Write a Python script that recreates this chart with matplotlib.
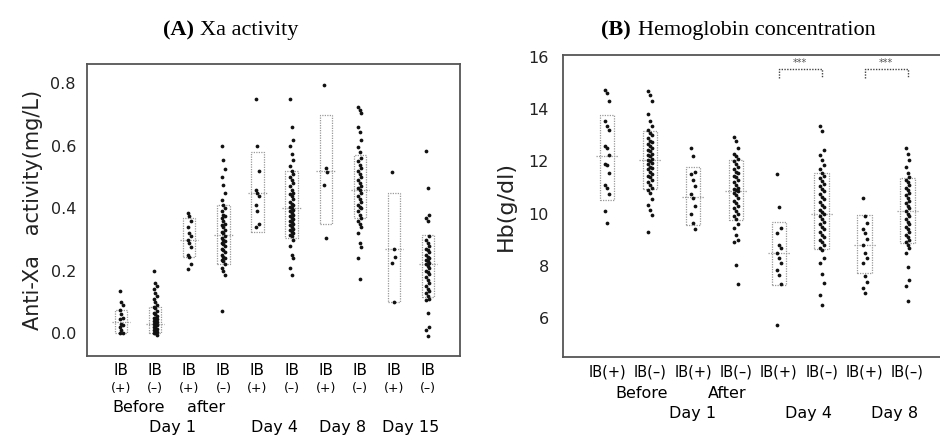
import numpy as np
import matplotlib
matplotlib.use("Agg")
import matplotlib.pyplot as plt
from matplotlib.patches import Rectangle
from matplotlib.transforms import blended_transform_factory

# ---- (A) Xa activity, mg/L ----
xa_groups = [
    [0.135, 0.10, 0.09, 0.075, 0.06, 0.05, 0.045, 0.03, 0.025, 0.02, 0.01, 0.0, 0.0],
    [0.2, 0.16, 0.15, 0.14, 0.13, 0.12, 0.11, 0.1, 0.09, 0.085, 0.08, 0.07, 0.065, 0.06,
     0.055, 0.05, 0.05, 0.045, 0.04, 0.04, 0.035, 0.03, 0.03, 0.025, 0.02, 0.02, 0.015,
     0.01, 0.01, 0.005, 0.0, 0.0, -0.005],
    [0.385, 0.375, 0.36, 0.34, 0.32, 0.31, 0.30, 0.29, 0.275, 0.25, 0.245, 0.22, 0.205],
    [0.6, 0.555, 0.525, 0.5, 0.475, 0.45, 0.425, 0.41, 0.4, 0.39, 0.38, 0.375, 0.37, 0.36,
     0.35, 0.345, 0.34, 0.33, 0.325, 0.32, 0.31, 0.305, 0.3, 0.295, 0.29, 0.285, 0.28,
     0.27, 0.265, 0.26, 0.25, 0.245, 0.24, 0.235, 0.23, 0.22, 0.21, 0.2, 0.185, 0.07],
    [0.75, 0.6, 0.52, 0.46, 0.45, 0.44, 0.41, 0.39, 0.35, 0.34],
    [0.75, 0.66, 0.62, 0.6, 0.575, 0.555, 0.535, 0.52, 0.51, 0.5, 0.49, 0.48, 0.47, 0.46,
     0.45, 0.445, 0.44, 0.43, 0.42, 0.415, 0.41, 0.405, 0.4, 0.395, 0.39, 0.385, 0.38,
     0.375, 0.37, 0.365, 0.36, 0.355, 0.35, 0.345, 0.34, 0.335, 0.33, 0.325, 0.32, 0.315,
     0.31, 0.3, 0.28, 0.25, 0.24, 0.21, 0.185],
    [0.795, 0.53, 0.515, 0.475, 0.305],
    [0.725, 0.715, 0.705, 0.66, 0.645, 0.62, 0.595, 0.58, 0.56, 0.55, 0.54, 0.53, 0.52,
     0.51, 0.5, 0.49, 0.48, 0.47, 0.465, 0.46, 0.45, 0.44, 0.43, 0.42, 0.41, 0.405, 0.4,
     0.39, 0.38, 0.37, 0.36, 0.35, 0.34, 0.32, 0.29, 0.275, 0.24, 0.175],
    [0.515, 0.27, 0.245, 0.225, 0.1],
    [0.585, 0.465, 0.38, 0.37, 0.36, 0.31, 0.3, 0.29, 0.28, 0.27, 0.265, 0.26, 0.25, 0.245,
     0.24, 0.235, 0.23, 0.225, 0.22, 0.215, 0.21, 0.2, 0.195, 0.19, 0.18, 0.17, 0.16,
     0.15, 0.14, 0.135, 0.13, 0.12, 0.11, 0.105, 0.065, 0.02, 0.01, -0.01],
]
xa_box_lo = [0.0, 0.0, 0.245, 0.22, 0.325, 0.305, 0.35, 0.37, 0.1, 0.115]
xa_box_hi = [0.075, 0.085, 0.37, 0.41, 0.58, 0.52, 0.70, 0.57, 0.45, 0.315]
xa_box_med = [0.035, 0.03, 0.3, 0.315, 0.45, 0.4, 0.52, 0.46, 0.27, 0.22]
xa_ib = ["(+)", "(–)"] * 5
xa_phase = ["Before", "after"]
xa_days = ["Day 1", "Day 4", "Day 8", "Day 15"]
xa_yticks = [0.0, 0.2, 0.4, 0.6, 0.8]

# ---- (B) Hemoglobin, g/dl ----
hb_groups = [
    [14.75, 14.6, 14.3, 13.55, 13.35, 13.2, 12.6, 12.5, 12.25, 11.9, 11.85, 11.55, 11.1,
     11.0, 10.75, 10.1, 9.65],
    [14.7, 14.55, 14.3, 13.8, 13.55, 13.35, 13.2, 13.1, 13.0, 12.9, 12.8, 12.75, 12.65,
     12.6, 12.5, 12.45, 12.4, 12.3, 12.25, 12.2, 12.1, 12.05, 12.0, 11.95, 11.9, 11.8,
     11.75, 11.7, 11.6, 11.5, 11.45, 11.4, 11.3, 11.2, 11.1, 11.0, 10.9, 10.8, 10.55,
     10.35, 10.15, 9.95, 9.3],
    [12.5, 12.2, 11.6, 11.5, 11.3, 11.05, 10.75, 10.6, 10.3, 10.0, 9.65, 9.4],
    [12.95, 12.8, 12.5, 12.3, 12.2, 12.1, 12.0, 11.9, 11.8, 11.7, 11.6, 11.55, 11.45, 11.4,
     11.3, 11.2, 11.1, 11.0, 10.95, 10.9, 10.85, 10.8, 10.7, 10.6, 10.5, 10.4, 10.3, 10.2,
     10.1, 10.0, 9.9, 9.8, 9.6, 9.45, 9.2, 9.0, 8.9, 8.05, 7.3],
    [11.5, 10.25, 9.45, 9.25, 8.8, 8.7, 8.5, 8.3, 8.1, 7.85, 7.65, 7.3, 5.75],
    [13.35, 13.15, 12.45, 12.25, 12.05, 11.85, 11.7, 11.55, 11.45, 11.35, 11.25, 11.15,
     11.05, 10.95, 10.85, 10.75, 10.65, 10.55, 10.45, 10.35, 10.25, 10.15, 10.05, 10.0,
     9.9, 9.8, 9.7, 9.6, 9.5, 9.4, 9.3, 9.2, 9.1, 9.0, 8.9, 8.8, 8.7, 8.6, 8.3, 8.1, 7.7,
     7.35, 6.9, 6.5],
    [10.6, 9.9, 9.65, 9.4, 9.25, 9.05, 8.8, 8.5, 8.3, 8.1, 7.6, 7.4, 7.15, 6.95],
    [12.5, 12.3, 12.05, 11.8, 11.55, 11.4, 11.3, 11.2, 11.1, 11.0, 10.9, 10.8, 10.7, 10.6,
     10.5, 10.4, 10.3, 10.2, 10.1, 10.0, 9.9, 9.8, 9.7, 9.6, 9.5, 9.4, 9.3, 9.2, 9.1, 9.0,
     8.9, 8.8, 8.7, 8.5, 7.95, 7.45, 7.25, 6.65],
]
hb_box_lo = [10.53, 10.95, 9.58, 9.75, 7.27, 8.64, 7.72, 8.87]
hb_box_hi = [13.78, 13.15, 11.8, 12.07, 9.69, 11.54, 9.95, 11.35]
hb_box_med = [12.2, 12.05, 10.65, 10.85, 8.48, 10.0, 8.8, 10.1]
hb_ib = ["IB(+)", "IB(–)"] * 4
hb_phase = ["Before", "After"]
hb_days = ["Day 1", "Day 4", "Day 8"]
hb_yticks = [6, 8, 10, 12, 14, 16]
hb_sig = [(4, 5, "***"), (6, 7, "***")]

W, H = 940, 436
fig = plt.figure(figsize=(W / 100, H / 100), dpi=100)
plt.rcParams["font.family"] = "DejaVu Sans"


def px(x, y):
    return x / W, 1 - y / H


def draw_groups(ax, groups, lo, hi, med, bw):
    for i, vals in enumerate(groups):
        vals = np.array(vals)
        off = ((np.arange(len(vals)) % 3) - 1) * 0.045
        ax.plot(i + off, vals, "o", color="#111111", ms=2.7, mec="none", zorder=3)
        ax.add_patch(Rectangle((i - bw / 2, lo[i]), bw, hi[i] - lo[i], fill=False,
                               ec="#999999", ls=(0, (1, 1)), lw=0.9, zorder=2))
        ax.plot([i - bw * 0.75, i + bw * 0.75], [med[i], med[i]], color="#999999",
                ls=(0, (1, 1)), lw=0.9, zorder=2)


def style(ax):
    for s in ax.spines.values():
        s.set_color("#555555")
        s.set_linewidth(1.3)
    ax.tick_params(axis="both", length=0, labelsize=11.5, colors="#222222")
    ax.set_xticks([])


# ---------- panel A ----------
axA = fig.add_axes([87 / W, 1 - 356 / H, 373 / W, 292 / H])
draw_groups(axA, xa_groups, xa_box_lo, xa_box_hi, xa_box_med, 0.36)
axA.set_xlim(-1.0, 9.94)
axA.set_ylim(-0.073, 0.862)
axA.set_yticks(xa_yticks)
axA.set_yticklabels([f"{v:.1f}" for v in xa_yticks])
style(axA)
axA.tick_params(axis="y", pad=8)
axA.set_ylabel("Anti-Xa   activity(mg/L)", fontsize=15, color="#222222", labelpad=5)

tA = blended_transform_factory(axA.transData, fig.transFigure)
for i, lab in enumerate(xa_ib):
    fig.text(i, 1 - 370 / H, "IB", transform=tA, ha="center", va="center", fontsize=11)
    fig.text(i, 1 - 388 / H, lab, transform=tA, ha="center", va="center", fontsize=9)
for i, lab in enumerate(xa_phase):
    fig.text(2 * i + 0.5, 1 - 407 / H, lab, transform=tA, ha="center", va="center", fontsize=11.5)
for i, lab in enumerate(xa_days):
    c = 1.5 if i == 0 else 2 * i + 2.5
    fig.text(c, 1 - 427 / H, lab, transform=tA, ha="center", va="center", fontsize=11.5)

fig.text(*px(194, 30), "(A)", ha="right", va="center", fontsize=16,
         family="Liberation Serif", weight="bold")
fig.text(*px(200, 30), "Xa activity", ha="left", va="center", fontsize=16,
         family="Liberation Serif")

# ---------- panel B ----------
axB = fig.add_axes([563 / W, 1 - 357 / H, 381 / W, 302 / H])
draw_groups(axB, hb_groups, hb_box_lo, hb_box_hi, hb_box_med, 0.34)
axB.set_xlim(-1.03, 7.85)
axB.set_ylim(4.52, 16.07)
axB.set_yticks(hb_yticks)
style(axB)
axB.tick_params(axis="y", pad=10)
axB.set_ylabel("Hb(g/dl)", fontsize=16, color="#222222", labelpad=9)

for a, b, star in hb_sig:
    axB.plot([a, a, b, b], [15.2, 15.52, 15.52, 15.2], color="#444444",
             ls=(0, (1, 1)), lw=1.0)
    axB.text((a + b) / 2, 15.78, star, ha="center", va="center", fontsize=7,
             color="#555555")

tB = blended_transform_factory(axB.transData, fig.transFigure)
for i, lab in enumerate(hb_ib):
    fig.text(i, 1 - 372 / H, lab, transform=tB, ha="center", va="center", fontsize=10.5)
for i, lab in enumerate(hb_phase):
    fig.text(2 * i + 0.8, 1 - 393 / H, lab, transform=tB, ha="center", va="center", fontsize=11.5)
for i, lab in enumerate(hb_days):
    c = 2.0 if i == 0 else 2 * i + 2.7
    fig.text(c, 1 - 413 / H, lab, transform=tB, ha="center", va="center", fontsize=11.5)

fig.text(*px(631, 30), "(B)", ha="right", va="center", fontsize=16,
         family="Liberation Serif", weight="bold")
fig.text(*px(638, 30), "Hemoglobin concentration", ha="left", va="center", fontsize=16,
         family="Liberation Serif")

fig.savefig("out.png", dpi=100)
